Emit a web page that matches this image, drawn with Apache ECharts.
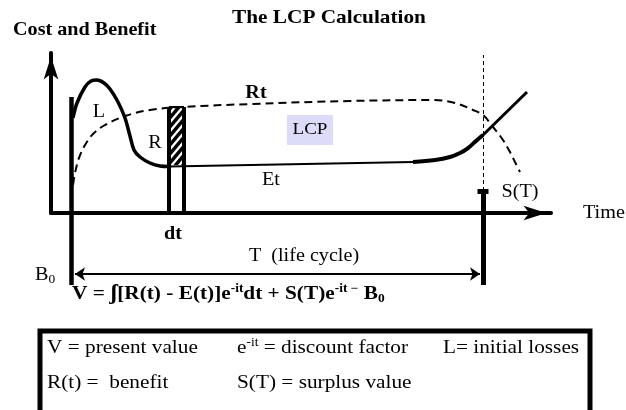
<!DOCTYPE html>
<html>
<head>
<meta charset="utf-8">
<script src="https://cdn.jsdelivr.net/npm/echarts@6.0.0/dist/echarts.min.js"></script>
<style>
html, body { margin: 0; padding: 0; background: #fff; }
#main { width: 626px; height: 410px; }
</style>
</head>
<body>
<div id="main"></div>
<script>
var font = '"Liberation Serif", "Times New Roman", serif';
var stretch = 1.12;

// time runs 0..100, cost / benefit 0..100 (arbitrary units)
var lossCurve = [[4.4, 59.4], [5.2, 68.75], [6.8, 78.75], [8.0, 82.5], [9.2, 83.1], [10.6, 81.25], [11.8, 77.5],
    [13.4, 69.4], [14.8, 59.4], [15.8, 48.1], [16.6, 39.4], [17.8, 35], [19.8, 31.25], [21.8, 29.4], [23.6, 29.1]];
var costLine = [[23.6, 29.1], [72.4, 31.9]];
var costRise = [[72.4, 31.9], [76.8, 33.1], [79.8, 35], [81.8, 37.5], [83.4, 40.6], [85, 45], [86.4, 48.75]];
var costAfter = [[86, 47.5], [95.2, 75.6]];
var benefitCurve = [[4.4, 17.5], [4.8, 25], [5.6, 34.4], [6.8, 42.5], [8.4, 49.4], [10.8, 55], [14.8, 60.6],
    [19.8, 64.4], [26.4, 66.25], [39.8, 68.1], [59.8, 70], [76.4, 70.6], [80.8, 68.75], [84.4, 64.4],
    [86.4, 61.25], [88.4, 53.75], [90.4, 45.6], [91.8, 38.1], [92.8, 31.9], [93.8, 25.6]];

var startTime = 4.0;
var endTime = 86.4;
var startTop = 72.5;
var b0Level = -45;
var lifeLevel = -38.1;
var surplusLevel = 13.75;
var dashTop = 98.75;
var dtSlice = [23.6, 26.6];
var dtTop = 66.25;
var dtHatchBottom = 30;

var noteTexts = ['L', 'R', 'Rt', 'Et', 'dt', 'T  (life cycle)', 'S(T)'];
var noteAt = [[9.6, 63.1], [20.8, 43.75], [41, 75], [44, 20.6], [24.4, -13.1], [50.6, -26.9], [93.8, 13.1]];
var noteBold = [false, false, true, false, true, false, false];

var dom = document.getElementById('main');
var myChart = echarts.init(dom);

function seg(a, b, style) {
    return { coords: [a, b], lineStyle: style };
}

var straight = [
    seg([startTime, startTop], [startTime, b0Level], { width: 4.5 }),
    seg([dtSlice[0], 0], [dtSlice[0], dtTop], { width: 4 }),
    seg([dtSlice[1], 0], [dtSlice[1], dtTop], { width: 4 }),
    seg([dtSlice[0], dtTop], [dtSlice[1], dtTop], { width: 2 }),
    seg([endTime, surplusLevel], [endTime, b0Level], { width: 5 }),
    seg([endTime - 1.1, surplusLevel], [endTime + 1.1, surplusLevel], { width: 5 }),
    seg([endTime, surplusLevel], [endTime, dashTop], { width: 1, type: [4, 3] })
];

var option = {
    animation: false,
    grid: { left: 51, right: 75, top: 53, bottom: 197 },
    xAxis: {
        type: 'value', min: 0, max: 100,
        axisLine: { show: true, lineStyle: { color: '#000', width: 4 }, symbol: ['none', 'arrow'], symbolSize: [11, 23], symbolOffset: [0, -4.5] },
        axisTick: { show: false }, axisLabel: { show: false }, splitLine: { show: false }
    },
    yAxis: {
        type: 'value', min: 0, max: 100,
        axisLine: { show: true, lineStyle: { color: '#000', width: 4 }, symbol: ['none', 'arrow'], symbolSize: [11, 23], symbolOffset: [0, -3.5] },
        axisTick: { show: false }, axisLabel: { show: false }, splitLine: { show: false }
    },
    series: [
        { type: 'line', data: lossCurve, smooth: 0.35, symbol: 'none', clip: false, lineStyle: { color: '#000', width: 3.5 } },
        { type: 'line', data: costLine, symbol: 'none', clip: false, lineStyle: { color: '#000', width: 2 } },
        { type: 'line', data: costRise, smooth: 0.35, symbol: 'none', clip: false, lineStyle: { color: '#000', width: 4 } },
        { type: 'line', data: costAfter, symbol: 'none', clip: false, lineStyle: { color: '#000', width: 3 } },
        { type: 'line', data: benefitCurve, smooth: 0.35, symbol: 'none', clip: false, lineStyle: { color: '#000', width: 2, type: [8, 5] } },
        {
            type: 'lines', coordinateSystem: 'cartesian2d', clip: false, symbol: 'none',
            lineStyle: { color: '#000', opacity: 1, curveness: 0 },
            data: straight
        },
        {
            type: 'lines', coordinateSystem: 'cartesian2d', clip: false,
            symbol: ['arrow', 'arrow'], symbolSize: 10,
            lineStyle: { color: '#000', width: 2, opacity: 1 },
            data: [{ coords: [[startTime + 0.8, lifeLevel], [endTime - 0.6, lifeLevel]] }]
        },
        {
            type: 'custom', clip: false,
            data: [[dtSlice[0], dtSlice[1], dtHatchBottom, dtTop]],
            encode: { x: [0, 1], y: [2, 3] },
            renderItem: function (params, api) {
                var p0 = api.coord([api.value(0), api.value(3)]);
                var p1 = api.coord([api.value(1), api.value(2)]);
                var w = p1[0] - p0[0], h = p1[1] - p0[1];
                var kids = [];
                for (var y = p0[1] - w; y < p1[1] + w; y += 9) {
                    kids.push({ type: 'line', shape: { x1: p0[0], y1: y + w * 1.2, x2: p1[0], y2: y },
                        style: { stroke: '#000', lineWidth: 3.5 } });
                }
                return { type: 'group', children: kids,
                    clipPath: { type: 'rect', shape: { x: p0[0], y: p0[1], width: w, height: h } } };
            }
        }
    ]
};
myChart.setOption(option);

function px(p) {
    return myChart.convertToPixel({ gridIndex: 0 }, p);
}

function txt(x, y, text, size, bold, align, extra) {
    var st = {
        text: text, fontFamily: font, fontSize: size, fontWeight: bold ? 'bold' : 'normal',
        fill: '#000', textAlign: align || 'center', textVerticalAlign: 'middle'
    };
    for (var k in extra || {}) st[k] = extra[k];
    return { type: 'text', x: x, y: y, scaleX: stretch, z: 100, style: st };
}

var sup = { fontFamily: font, fontSize: 12, lineHeight: 12, verticalAlign: 'top' };
var supB = { fontFamily: font, fontSize: 12, lineHeight: 12, verticalAlign: 'top', fontWeight: 'bold' };
var sub = { fontFamily: font, fontSize: 12, lineHeight: 12, verticalAlign: 'bottom' };
var subB = { fontFamily: font, fontSize: 12, lineHeight: 12, verticalAlign: 'bottom', fontWeight: 'bold' };

var graphics = [];
noteTexts.forEach(function (t, i) {
    var p = px(noteAt[i]);
    graphics.push(txt(p[0], p[1], t, 18, noteBold[i]));
});

var lcp = px([51.8, 51.9]);
graphics.push(txt(lcp[0], lcp[1], 'LCP', 17, false, 'center', { backgroundColor: '#dcdcf8', padding: [7, 5, 6, 5] }));

var timeAt = px([106.4, 0]);
graphics.push(txt(timeAt[0], timeAt[1], 'Time', 18, false, 'left'));
var yName = px([-7.6, 114.4]);
graphics.push(txt(yName[0], yName[1], 'Cost and Benefit', 18, true, 'left'));
var b0 = px([-3.2, -38.75]);
graphics.push(txt(b0[0], b0[1], '{n|B}{s|0}', 18, false, 'left', {
    rich: { n: { fontFamily: font, fontSize: 18, lineHeight: 22 }, s: sub }
}));

graphics.push(txt(329, 18, 'The LCP Calculation', 19, true));

graphics.push(txt(72, 294, '{b|V = }{i|\u0283}{b|[R(t) - E(t)]e}{s|-it}{b|dt + S(T)e}{s|-it \u2212}{b| B}{u|0}', 19, true, 'left', {
    rich: {
        b: { fontFamily: font, fontSize: 19, fontWeight: 'bold', lineHeight: 22 },
        i: { fontFamily: font, fontSize: 21, fontWeight: 'bold', lineHeight: 22 },
        s: supB, u: subB
    }
}));

graphics.push({ type: 'rect', z: 90, shape: { x: 40, y: 331, width: 550, height: 100 },
    style: { fill: 'none', stroke: '#000', lineWidth: 5 } });

var nRich = { fontFamily: font, fontSize: 19, lineHeight: 22 };
graphics.push(txt(47, 348, 'V = present value', 19, false, 'left'));
graphics.push(txt(237, 348, '{n|e}{s|-it}{n| = discount factor}', 19, false, 'left', { rich: { n: nRich, s: sup } }));
graphics.push(txt(443, 348, 'L= initial losses', 19, false, 'left'));
graphics.push(txt(47, 383, 'R(t) =  benefit', 19, false, 'left'));
graphics.push(txt(237, 383, 'S(T) = surplus value', 19, false, 'left'));

myChart.setOption({ graphic: graphics });
</script>
</body>
</html>
